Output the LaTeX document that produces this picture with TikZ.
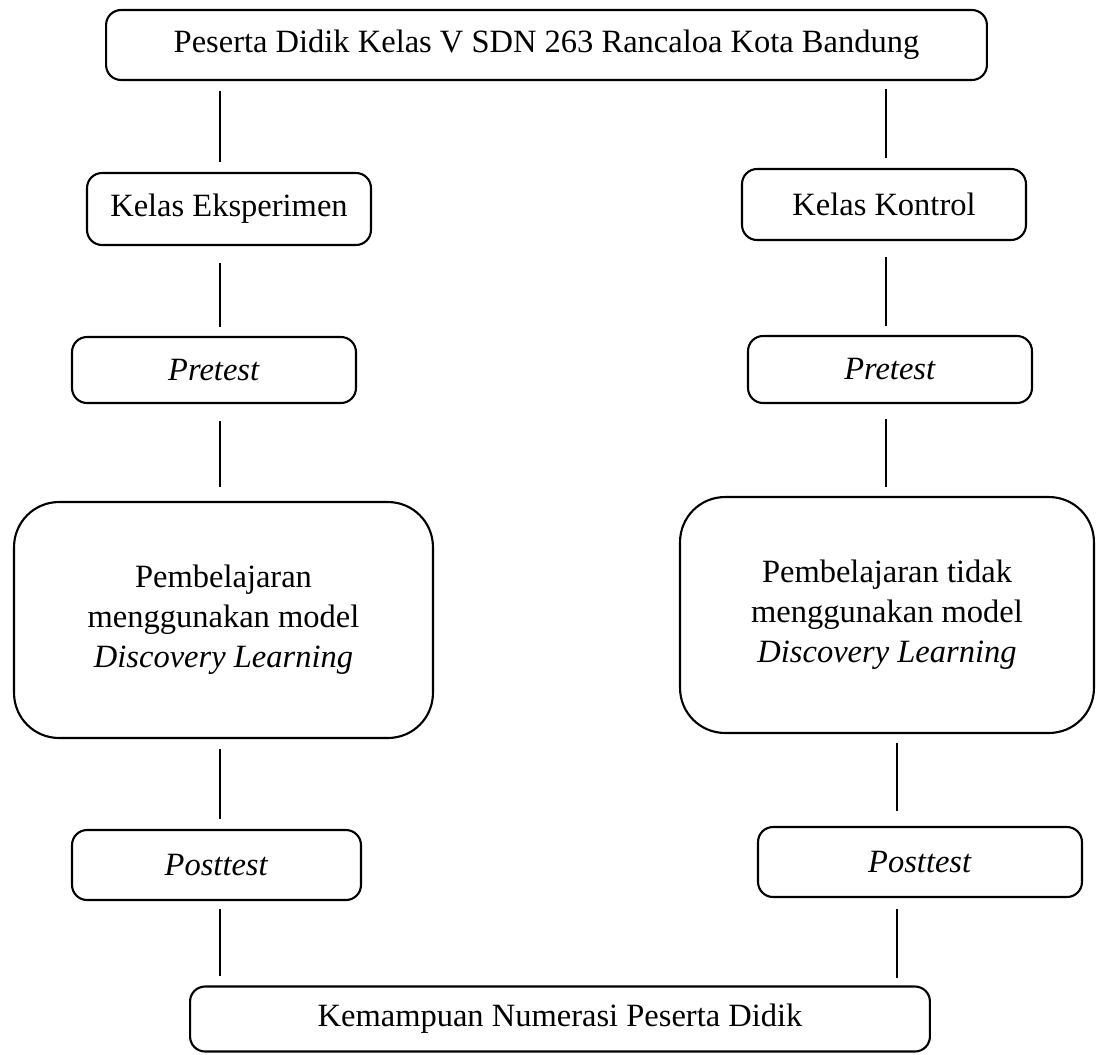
\documentclass[tikz,border=0pt]{standalone}
\usepackage{fontspec}
\setmainfont{Liberation Serif}

\begin{document}
\begin{tikzpicture}[
            x = 0.02cm, y = -0.02cm, % one unit = one pixel of the sketch
            font = \fontsize{18.5}{22.7}\selectfont,
            box/.style = {draw, line width=1.2pt, rounded corners=0.3cm,
                          align=center, inner sep=0pt},
            bigbox/.style = {box, rounded corners=0.9cm},
            link/.style = {line width=1.1pt, shorten <=0.2cm, shorten >=0.2cm}
        ]

	\useasboundingbox (0,0) rectangle (1096,1055);

	\node[box, minimum width=17.62cm, minimum height=1.4cm] (top) at (546.5,45) {Peserta Didik Kelas V SDN 263 Rancaloa Kota Bandung};

	% experiment class
	\node[box, minimum width=5.68cm, minimum height=1.44cm] (ke) at (229,209) {Kelas Eksperimen};
	\node[box, minimum width=5.68cm, minimum height=1.32cm] (pl) at (214,370) {\textit{Pretest}};
	\node[bigbox, minimum width=8.38cm, minimum height=4.72cm] (bl) at (223.5,620) {Pembelajaran\\menggunakan model\\\textit{Discovery Learning}};
	\node[box, minimum width=5.78cm, minimum height=1.4cm] (ql) at (216.5,865) {\textit{Posttest}};

	% control class
	\node[box, minimum width=5.68cm, minimum height=1.42cm] (kk) at (884,204.5) {Kelas Kontrol};
	\node[box, minimum width=5.68cm, minimum height=1.34cm] (pr) at (890,369.5) {\textit{Pretest}};
	\node[bigbox, minimum width=8.28cm, minimum height=4.72cm] (br) at (887,615) {Pembelajaran tidak\\menggunakan model\\\textit{Discovery Learning}};
	\node[box, minimum width=6.48cm, minimum height=1.4cm] (qr) at (920,862) {\textit{Posttest}};

	\node[box, minimum width=14.8cm, minimum height=1.3cm] (bot) at (560,1019) {Kemampuan Numerasi Peserta Didik};

	\coordinate (lx) at (220,0);
	\coordinate (rx) at (886,0);
	\coordinate (sx) at (897,0);

	\draw[link] (top.south -| lx) -- (ke.north -| lx);
	\draw[link, shorten <=0.34cm, shorten >=0.18cm] (ke.south -| lx) -- (pl.north -| lx);
	\draw[link, shorten <=0.34cm, shorten >=0.28cm] (pl.south -| lx) -- (bl.north -| lx);
	\draw[link] (bl.south -| lx) -- (ql.north -| lx);
	\draw[link, shorten <=0.16cm, shorten >=0.18cm] (ql.south -| lx) -- (bot.north -| lx);

	\draw[link, shorten <=0.16cm] (top.south -| rx) -- (kk.north -| rx);
	\draw[link, shorten <=0.32cm, shorten >=0.18cm] (kk.south -| rx) -- (pr.north -| rx);
	\draw[link, shorten <=0.3cm, shorten >=0.18cm] (pr.south -| rx) -- (br.north -| rx);
	\draw[link, shorten <=0.18cm, shorten >=0.3cm] (br.south -| sx) -- (qr.north -| sx);
	\draw[link, shorten <=0.22cm, shorten >=0.14cm] (qr.south -| sx) -- (bot.north -| sx);

\end{tikzpicture}
\end{document}
